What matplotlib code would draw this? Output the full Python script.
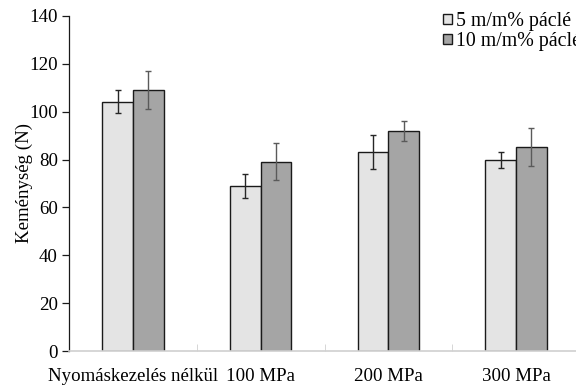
import matplotlib
matplotlib.use("Agg")
import matplotlib.pyplot as plt
import numpy as np

categories = ["Nyomáskezelés nélkül", "100 MPa", "200 MPa", "300 MPa"]
series_names = ["5 m/m% páclé", "10 m/m% páclé"]
vals_5 = [104.2, 68.8, 83.1, 79.9]
err_5 = [4.9, 5.0, 7.1, 3.3]
vals_10 = [109.2, 79.1, 92.0, 85.3]
err_10 = [8.0, 7.8, 4.1, 8.1]
yticks = [0, 20, 40, 60, 80, 100, 120, 140]

plt.rcParams["font.family"] = ["Liberation Serif", "DejaVu Serif"]
plt.rcParams["font.size"] = 13.6

W, H = 576, 385
fig = plt.figure(figsize=(W / 100, H / 100), dpi=100)
ax = fig.add_axes([69 / W, 1 - 351 / H, 511 / W, 335 / H])

x = np.arange(len(categories))
bw = 0.24
ax.bar(x - bw / 2, vals_5, bw, color="#e4e4e4", edgecolor="#1a1a1a", linewidth=1.0,
       label=series_names[0], zorder=2)
ax.bar(x + bw / 2, vals_10, bw, color="#a5a5a5", edgecolor="#1a1a1a", linewidth=1.0,
       label=series_names[1], zorder=2)
ax.errorbar(x - bw / 2, vals_5, yerr=err_5, fmt="none", ecolor="#262626",
            elinewidth=1.0, capsize=2.5, capthick=1.0, zorder=3)
ax.errorbar(x + bw / 2, vals_10, yerr=err_10, fmt="none", ecolor="#5a5a5a",
            elinewidth=1.0, capsize=2.5, capthick=1.0, zorder=3)

ax.set_xlim(-0.5, len(categories) - 0.5)
ax.set_ylim(0, 140)
ax.set_yticks(yticks)
ax.set_xticks(x)
ax.set_xticklabels(categories)
ax.set_xticks(np.arange(0.5, len(categories) - 0.5, 1.0), minor=True)
ax.tick_params(axis="x", which="major", length=0, pad=12)
ax.tick_params(axis="x", which="minor", direction="in", length=5, color="#d0d0d0")
ax.tick_params(axis="y", direction="out", length=5, width=0.9, color="#1a1a1a", pad=3)

for side in ["top", "right"]:
    ax.spines[side].set_visible(False)
ax.spines["left"].set_color("#1a1a1a")
ax.spines["left"].set_linewidth(0.9)
ax.spines["bottom"].set_color("#d0d0d0")
ax.spines["bottom"].set_linewidth(1.2)

ax.set_ylabel("Keménység (N)")
ax.yaxis.set_label_coords(-36 / 511, (351 - 183) / 335)

fig.legend(loc="upper left", bbox_to_anchor=(443 / W, 1 - 12 / H), frameon=False,
           fontsize=14.3, handlelength=0.45, handleheight=0.45, handletextpad=0.2,
           labelspacing=0.05, borderaxespad=0, borderpad=0)

fig.savefig("out.png", dpi=100)
